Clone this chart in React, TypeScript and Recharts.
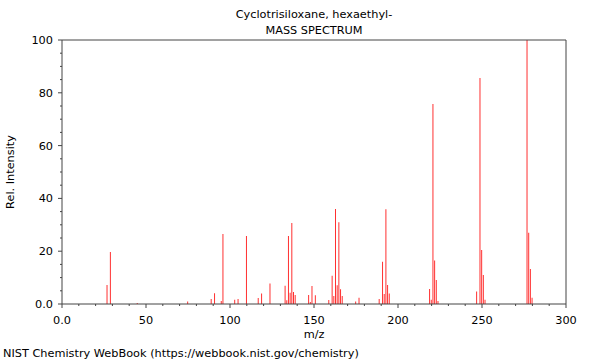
import React from "react";
import { ComposedChart, Bar, XAxis, YAxis, ReferenceLine } from "recharts";

const MZ = [
  27, 29, 45, 75, 89, 91, 95, 96, 103, 105, 110, 117, 119, 124, 133, 134, 135, 136, 137, 138, 139,
  147, 148, 149, 151, 159, 161, 162, 163, 164, 165, 166, 167, 175, 177, 189, 191, 192, 193, 194, 195,
  219, 220, 221, 222, 223, 224, 247, 249, 250, 251, 252, 277, 278, 279, 280,
];
const INTENSITY = [
  7.2, 19.7, 0.4, 0.9, 1.9, 4.1, 1.1, 26.5, 1.6, 1.9, 25.8, 2.3, 4.0, 7.8, 6.9, 1.4, 25.8, 4.3, 30.7, 4.5, 3.4,
  3.4, 0.8, 6.8, 3.3, 1.5, 10.7, 3.0, 36.0, 7.1, 31.0, 5.6, 3.0, 0.9, 2.4, 1.9, 16.0, 3.8, 35.9, 7.2, 4.0,
  5.7, 1.6, 75.8, 16.5, 9.1, 1.1, 4.7, 85.6, 20.5, 11.0, 1.6, 100, 27.0, 13.3, 2.4,
];
const X_TICKS = [0, 10, 20, 30, 40, 50, 60, 70, 80, 90, 100, 110, 120, 130, 140, 150, 160, 170, 180, 190, 200, 210, 220, 230, 240, 250, 260, 270, 280, 290, 300];
const Y_TICKS = [0, 5, 10, 15, 20, 25, 30, 35, 40, 45, 50, 55, 60, 65, 70, 75, 80, 85, 90, 95, 100];
const TITLE = "Cyclotrisiloxane, hexaethyl-";
const SUBTITLE = "MASS SPECTRUM";
const FOOTER = "NIST Chemistry WebBook (https://webbook.nist.gov/chemistry)";

const data = MZ.map((mz, i) => ({ mz, value: INTENSITY[i] }));

const FONT = "DejaVu Sans, sans-serif";
const AXIS = "#444";

const XTick = (props: any) => {
  const { x, y, payload } = props;
  const v = payload.value;
  const major = v % 50 === 0;
  return (
    <g>
      <line x1={x} x2={x} y1={y} y2={y + (major ? 4 : 2)} stroke={AXIS} />
      {major && (
        <text x={x} y={y + 20} textAnchor="middle" fontSize={11.3} fontFamily={FONT} fill="#000">
          {v === 0 ? "0.0" : v}
        </text>
      )}
    </g>
  );
};

const YTick = (props: any) => {
  const { x, y, payload } = props;
  const v = payload.value;
  const major = v % 20 === 0;
  return (
    <g>
      <line x1={x} x2={x - (major ? 4 : 2)} y1={y} y2={y} stroke={AXIS} />
      {major && (
        <text x={x - 9} y={y + 4} textAnchor="end" fontSize={11.3} fontFamily={FONT} fill="#000">
          {v === 0 ? "0.0" : v}
        </text>
      )}
    </g>
  );
};

export default function App() {
  return (
    <div style={{ position: "absolute", left: 0, top: 0, width: 600, height: 360, background: "#fff" }}>
      <ComposedChart width={600} height={360} data={data} margin={{ top: 40, right: 34, bottom: 0, left: 12 }}>
        <XAxis
          dataKey="mz"
          type="number"
          domain={[0, 300]}
          ticks={X_TICKS}
          interval={0}
          tickSize={0}
          tickMargin={0}
          tick={<XTick />}
          stroke={AXIS}
          height={56}
          allowDataOverflow
        />
        <YAxis
          type="number"
          domain={[0, 100]}
          ticks={Y_TICKS}
          interval={0}
          tickSize={0}
          tickMargin={0}
          tick={<YTick />}
          stroke={AXIS}
          width={50}
        />
        <ReferenceLine y={100} stroke={AXIS} ifOverflow="extendDomain" />
        <ReferenceLine x={300} stroke={AXIS} ifOverflow="extendDomain" />
        <Bar dataKey="value" fill="#ff3030" barSize={1} isAnimationActive={false} />
        <text x={314} y={18} textAnchor="middle" fontSize={11.3} fontFamily={FONT} fill="#000">
          {TITLE}
        </text>
        <text x={314} y={34} textAnchor="middle" fontSize={11.3} fontFamily={FONT} fill="#000">
          {SUBTITLE}
        </text>
        <text x={314} y={338} textAnchor="middle" fontSize={11.3} fontFamily={FONT} fill="#000">
          m/z
        </text>
        <text
          x={14}
          y={172}
          textAnchor="middle"
          fontSize={11.3}
          fontFamily={FONT}
          fill="#000"
          transform="rotate(-90 14 172)"
        >
          Rel. Intensity
        </text>
        <text x={3} y={357} fontSize={11.3} fontFamily={FONT} fill="#000">
          {FOOTER}
        </text>
      </ComposedChart>
    </div>
  );
}
